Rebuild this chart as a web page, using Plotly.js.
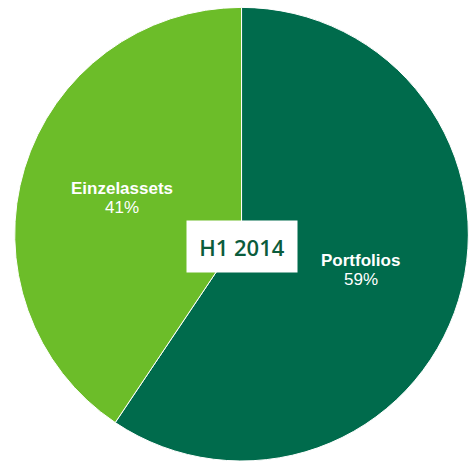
<!DOCTYPE html>
<html>
<head>
<meta charset="utf-8">
<script src="https://cdn.plot.ly/plotly-3.0.1.min.js"></script>
<style>html,body{margin:0;padding:0;background:#fff;}#chart{width:469px;height:461px;}</style>
</head>
<body>
<div id="chart"></div>
<script>
const categories = ["Portfolios", "Einzelassets"];
const shares = [59.4, 40.6];
const centerLabel = "H1 2014";

const W = 469, H = 461;
const dom = { x: [0.031, 0.999], y: [0, 0.984] };

const trace = {
  type: "pie",
  labels: categories,
  values: shares,
  sort: false,
  direction: "clockwise",
  rotation: 0,
  marker: { colors: ["#006B4C", "#6CBD29"], line: { color: "#ffffff", width: 1 } },
  textinfo: "none",
  hoverinfo: "none",
  showlegend: false,
  domain: dom
};

// label positions derived from slice mid-angles
const cxPx = (dom.x[0] + dom.x[1]) / 2 * W;
const cyPx = (dom.y[0] + dom.y[1]) / 2 * H; // from bottom
const R = Math.min((dom.x[1] - dom.x[0]) * W, (dom.y[1] - dom.y[0]) * H) / 2;
const total = shares.reduce((a, b) => a + b, 0);
const labelFont = { family: "Liberation Sans, Arial, sans-serif", size: 17, color: "#ffffff" };
const annotations = [];
let acc = 0;
shares.forEach((v, i) => {
  const mid = (acc + v / 2) / total * 2 * Math.PI;
  acc += v;
  const px = cxPx + Math.sin(mid) * R * 0.55;
  const py = cyPx + Math.cos(mid) * R * 0.55;
  const pct = Math.round(v / total * 100) + "%";
  annotations.push({ text: "<b>" + categories[i] + "</b>", xref: "paper", yref: "paper",
    x: px / W, y: (py + 9.5) / H, xanchor: "center", yanchor: "middle", showarrow: false, font: labelFont });
  annotations.push({ text: pct, xref: "paper", yref: "paper",
    x: px / W, y: (py - 9.5) / H, xanchor: "center", yanchor: "middle", showarrow: false, font: labelFont });
});

annotations.push({
  text: centerLabel,
  xref: "paper", yref: "paper",
  x: 0.516, y: 0.465,
  xanchor: "center", yanchor: "middle",
  showarrow: false,
  bgcolor: "#ffffff",
  width: 110, height: 51, borderpad: 0,
  font: { family: "Open Sans, sans-serif", size: 22, color: "#0B5C3C", weight: 600 }
});

const layout = {
  width: W, height: H,
  margin: { l: 0, r: 0, t: 0, b: 0 },
  paper_bgcolor: "#ffffff",
  showlegend: false,
  annotations: annotations
};

Plotly.newPlot("chart", [trace], layout, { staticPlot: true, displayModeBar: false });
</script>
</body>
</html>
